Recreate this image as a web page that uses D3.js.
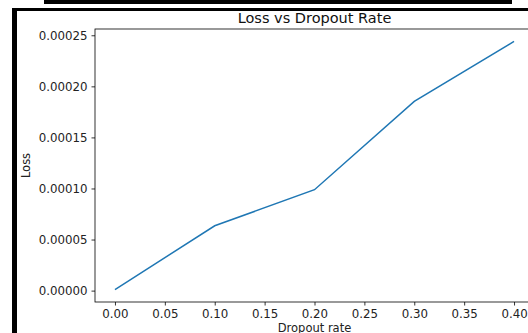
<!DOCTYPE html>
<html>
<head>
<meta charset="utf-8">
<script src="https://cdn.jsdelivr.net/npm/d3@7/dist/d3.min.js"></script>
<style>
  body { margin: 0; background: #fff; }
  svg { display: block; font-family: "DejaVu Sans", sans-serif; }
</style>
</head>
<body>
<div id="chart"></div>
<script>
// data
var dropout = [0.0, 0.1, 0.2, 0.3, 0.4]
var loss = [0.000001, 0.0000635, 0.0000988, 0.0001852, 0.0002440]
var xTicks = [0.00, 0.05, 0.10, 0.15, 0.20, 0.25, 0.30, 0.35, 0.40]
var yTicks = [0.00000, 0.00005, 0.00010, 0.00015, 0.00020, 0.00025]

var width = 528, height = 333
var plot = { left: 95, right: 534, top: 29, bottom: 302 }

var svg = d3.select("#chart").append("svg")
    .attr("width", width)
    .attr("height", height)

// black frame bits from the screenshot
svg.append("rect").attr("x", 44).attr("y", 0).attr("width", 468).attr("height", 4).attr("fill", "#000")
svg.append("rect").attr("x", 12).attr("y", 8).attr("width", 516).attr("height", 3).attr("fill", "#000")
svg.append("rect").attr("x", 12).attr("y", 8).attr("width", 5).attr("height", 325).attr("fill", "#000")

// matplotlib style 5% margins
var xPad = (d3.max(dropout) - d3.min(dropout)) * 0.05
var yPad = (d3.max(loss) - d3.min(loss)) * 0.05

var x = d3.scaleLinear()
    .domain([d3.min(dropout) - xPad, d3.max(dropout) + xPad])
    .range([plot.left, plot.right])

var y = d3.scaleLinear()
    .domain([d3.min(loss) - yPad, d3.max(loss) + yPad])
    .range([plot.bottom, plot.top])

// spines
svg.append("rect")
    .attr("x", plot.left).attr("y", plot.top)
    .attr("width", plot.right - plot.left).attr("height", plot.bottom - plot.top)
    .attr("fill", "none").attr("stroke", "#000").attr("stroke-width", 0.8)

var xAxis = svg.append("g")
    .attr("transform", "translate(0," + plot.bottom + ")")
    .call(d3.axisBottom(x).tickValues(xTicks).tickFormat(d3.format(".2f")).tickSize(3.5).tickPadding(4))
var yAxis = svg.append("g")
    .attr("transform", "translate(" + plot.left + ",0)")
    .call(d3.axisLeft(y).tickValues(yTicks).tickFormat(d3.format(".5f")).tickSize(3.5).tickPadding(4))

;[xAxis, yAxis].forEach(function(a) {
    a.select(".domain").remove()
    a.selectAll(".tick line").attr("stroke", "#000").attr("stroke-width", 0.8)
    a.selectAll(".tick text")
        .attr("fill", "#222")
        .style("font-family", "DejaVu Sans")
        .style("font-size", "11.8px")
})

// the line
var line = d3.line()
    .x(function(d, i) { return x(dropout[i]) })
    .y(function(d) { return y(d) })

svg.append("path")
    .datum(loss)
    .attr("d", line)
    .attr("fill", "none")
    .attr("stroke", "#1f77b4")
    .attr("stroke-width", 1.5)

// texts
svg.append("text")
    .attr("x", (plot.left + plot.right) / 2)
    .attr("y", 22.5)
    .attr("text-anchor", "middle")
    .style("font-size", "14.5px")
    .attr("fill", "#111")
    .text("Loss vs Dropout Rate")

svg.append("text")
    .attr("x", (plot.left + plot.right) / 2)
    .attr("y", 332)
    .attr("text-anchor", "middle")
    .style("font-size", "11.5px")
    .attr("fill", "#222")
    .text("Dropout rate")

svg.append("text")
    .attr("transform", "translate(30," + ((plot.top + plot.bottom) / 2) + ") rotate(-90)")
    .attr("text-anchor", "middle")
    .style("font-size", "11.5px")
    .attr("fill", "#222")
    .text("Loss")
</script>
</body>
</html>
